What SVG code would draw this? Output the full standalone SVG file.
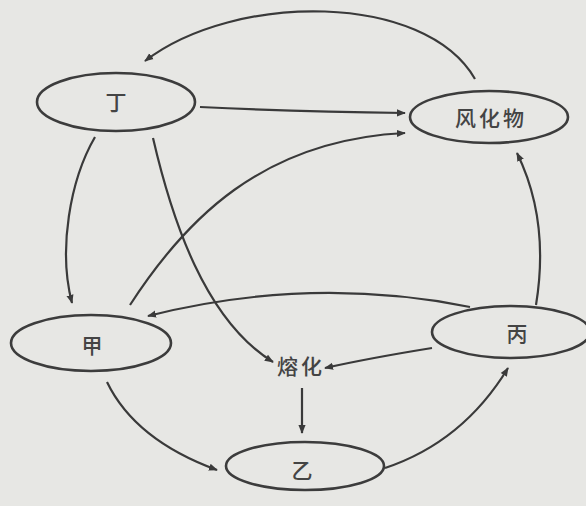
<svg xmlns="http://www.w3.org/2000/svg" width="586" height="506" viewBox="0 0 586 506">
  <defs>
    <marker id="ah" viewBox="0 0 10 10" refX="9" refY="5" markerWidth="9" markerHeight="9" markerUnits="userSpaceOnUse" orient="auto">
      <path d="M0,1 L10,5 L0,9 z" fill="#3a3a3a"/>
    </marker>
    <style>
      .node ellipse { fill: none; stroke: #3c3c3c; stroke-width: 2.6; }
      .node text { font-family: "Noto Sans CJK SC", "Noto Sans CJK TC", sans-serif; font-size: 21px; font-weight: 500; fill: #444444; text-anchor: middle; dominant-baseline: central; }
      .node text.wide { letter-spacing: 3px; }
      .edges path { fill: none; stroke: #3a3a3a; stroke-width: 2.2; marker-end: url(#ah); }
    </style>
  </defs>
  <rect width="586" height="506" fill="#e7e7e4"/>
  <g id="ding" class="node">
    <ellipse cx="116" cy="102" rx="79" ry="29"/>
    <text x="116" y="101">丁</text>
  </g>
  <g id="fenghuawu" class="node">
    <ellipse cx="489" cy="117" rx="79" ry="26"/>
    <text class="wide" x="491" y="117">风化物</text>
  </g>
  <g id="jia" class="node">
    <ellipse cx="91" cy="343" rx="80" ry="28"/>
    <text x="92" y="344">甲</text>
  </g>
  <g id="bing" class="node">
    <ellipse cx="511" cy="332" rx="79" ry="26"/>
    <text x="517" y="332">丙</text>
  </g>
  <g id="yi" class="node">
    <ellipse cx="305" cy="466" rx="79" ry="24"/>
    <text x="302" y="469">乙</text>
  </g>
  <g id="ronghua" class="node">
    <text class="wide" x="301" y="365">熔化</text>
  </g>
  <g class="edges">
    <path d="M475,79 C425,-8 235,-8 145,61"/>
    <path d="M200,107 Q300,112 405,113"/>
    <path d="M130,305 C185,220 262,140 405,133"/>
    <path d="M95,137 C70,180 58,250 72,303"/>
    <path d="M153,138 C172,220 205,320 273,362"/>
    <path d="M470,307 Q310,275 148,316"/>
    <path d="M432,348 Q370,358 325,368"/>
    <path d="M107,382 Q135,440 217,470"/>
    <path d="M302,388 L302,433"/>
    <path d="M385,468 Q463,442 508,368"/>
    <path d="M536,305 C545,250 540,200 517,153"/>
  </g>
</svg>
